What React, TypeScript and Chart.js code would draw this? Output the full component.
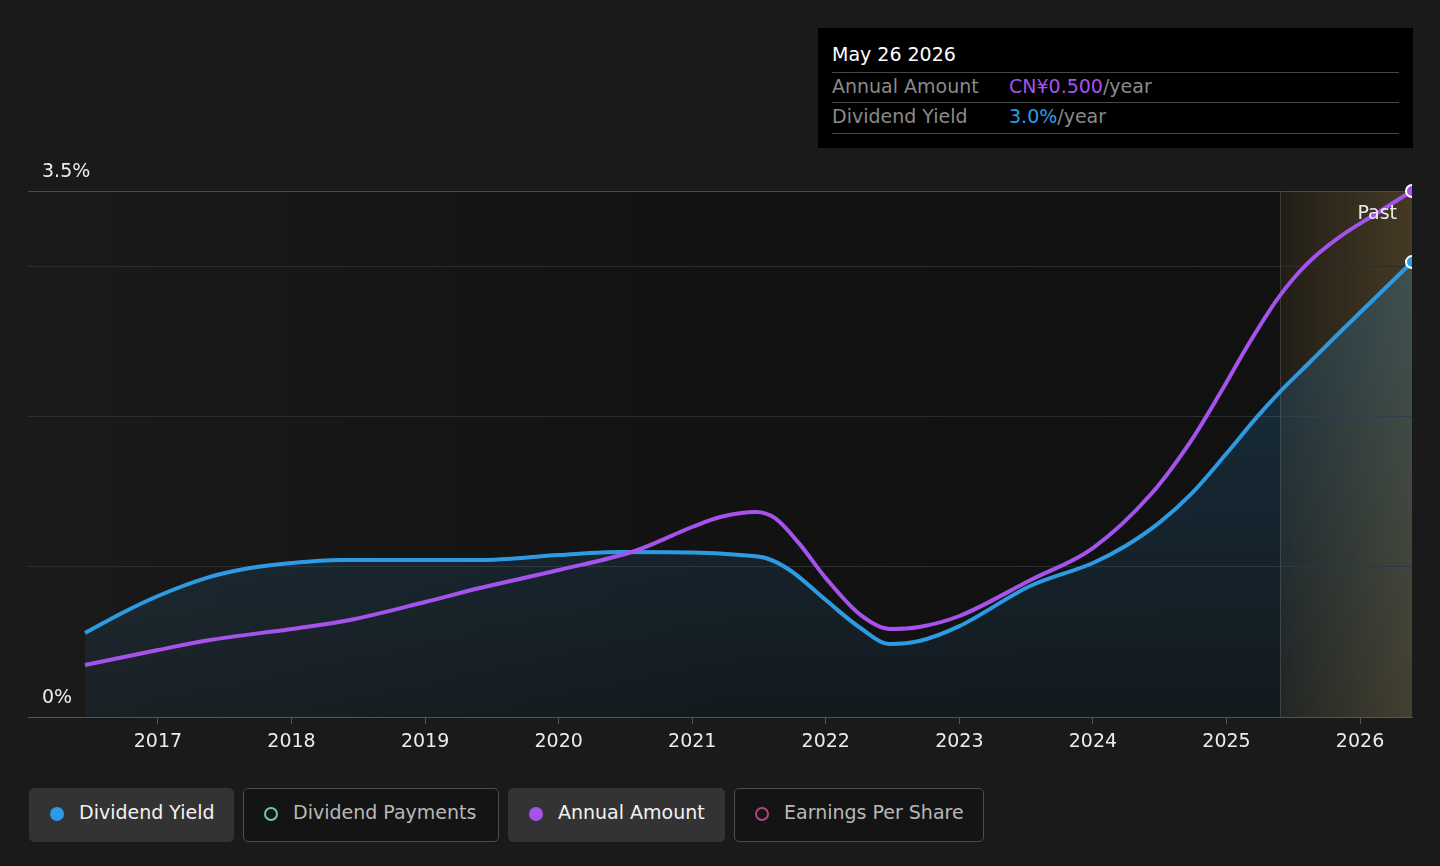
import React, { useEffect, useRef } from "react";
import { Chart, registerables } from "chart.js";

Chart.register(...registerables);

// ---- data ----
const YIELD_X = [2016.454, 2016.75, 2017.0, 2017.389, 2017.689, 2018.0, 2018.362, 2019.41, 2020.0, 2020.46, 2021.0, 2021.36, 2021.55, 2021.73, 2022.0, 2022.26, 2022.48, 2022.7, 2023.0, 2023.53, 2024.0, 2024.247, 2024.495, 2024.742, 2024.997, 2025.229, 2025.393, 2025.603, 2025.828, 2026.097, 2026.389];
const YIELD_Y = [0.559, 0.7, 0.805, 0.932, 0.991, 1.025, 1.045, 1.045, 1.078, 1.098, 1.095, 1.078, 1.058, 0.978, 0.778, 0.592, 0.486, 0.506, 0.605, 0.872, 1.025, 1.14, 1.292, 1.49, 1.75, 1.997, 2.157, 2.342, 2.542, 2.775, 3.027];

const AMOUNT_X = [2016.454, 2017.0, 2017.389, 2018.0, 2018.437, 2019.0, 2019.41, 2020.0, 2020.57, 2021.0, 2021.21, 2021.48, 2021.62, 2021.8, 2022.0, 2022.26, 2022.48, 2022.7, 2023.0, 2023.53, 2024.0, 2024.434, 2024.727, 2024.951, 2025.176, 2025.393, 2025.603, 2025.85, 2026.102, 2026.389];
const AMOUNT_Y = [0.0494, 0.0637, 0.0732, 0.0837, 0.0922, 0.1093, 0.1226, 0.1397, 0.1578, 0.1806, 0.1901, 0.1949, 0.189, 0.165, 0.132, 0.097, 0.0837, 0.0856, 0.096, 0.13, 0.1606, 0.2117, 0.2611, 0.3075, 0.3567, 0.3994, 0.4307, 0.4566, 0.477, 0.5];

const YEAR_TICKS = [2017, 2018, 2019, 2020, 2021, 2022, 2023, 2024, 2025, 2026];
const Y_GRID_TICKS = [0, 1, 2, 3, 3.5];
const Y_LABEL_VALUES = [0, 3.5];
const X_MIN = 2016.027;
const X_MAX = 2026.389;
const PAST_START = 2025.4;
const Y_MAX = 3.5;
const AMOUNT_MAX = 0.5;

const LEGEND_ITEMS = [
  { label: "Dividend Yield", color: "#2d9be3", active: true },
  { label: "Dividend Payments", color: "#6cc9b4", active: false },
  { label: "Annual Amount", color: "#a553ec", active: true },
  { label: "Earnings Per Share", color: "#b3457d", active: false },
];
const LEGEND_WIDTHS = [205, 256, 217, 250];

const FONT = "DejaVu Sans";
const BLUE = "#2d9be3";
const PURPLE = "#a553ec";

const decorPlugin = {
  id: "decor",
  beforeDraw(chart: any) {
    const { ctx, chartArea: a, scales } = chart;
    ctx.save();
    const g = ctx.createLinearGradient(a.left, 0, a.right, 0);
    g.addColorStop(0, "#1a1a1a");
    g.addColorStop(0.5, "#121212");
    g.addColorStop(1, "#111111");
    ctx.fillStyle = g;
    ctx.fillRect(a.left, a.top, a.right - a.left, a.bottom - a.top);
    const px = scales.x.getPixelForValue(PAST_START);
    const pg = ctx.createLinearGradient(px, 0, a.right, 0);
    pg.addColorStop(0, "rgba(120,98,55,0.16)");
    pg.addColorStop(1, "rgba(120,98,55,0.5)");
    ctx.fillStyle = pg;
    ctx.fillRect(px, a.top, a.right - px, a.bottom - a.top);
    ctx.restore();
  },
  beforeDatasetsDraw(chart: any) {
    const { ctx, chartArea: a, scales } = chart;
    const px = Math.round(scales.x.getPixelForValue(PAST_START)) + 0.5;
    ctx.save();
    ctx.strokeStyle = "#3c3c3c";
    ctx.lineWidth = 1;
    ctx.beginPath();
    ctx.moveTo(px, a.top);
    ctx.lineTo(px, a.bottom);
    ctx.stroke();
    ctx.restore();
  },
  afterDraw(chart: any) {
    const { ctx, chartArea: a, scales } = chart;
    ctx.save();
    ctx.font = `19px "${FONT}"`;
    ctx.fillStyle = "#ececec";
    ctx.textBaseline = "middle";
    ctx.textAlign = "left";
    Y_LABEL_VALUES.forEach((v) => {
      ctx.fillText(`${v}%`, a.left + 14, scales.y.getPixelForValue(v) - 19);
    });
    ctx.textAlign = "right";
    ctx.fillText("Past", a.right - 15, a.top + 23);
    ctx.restore();
  },
};

function ChartCanvas() {
  const ref = useRef<HTMLCanvasElement | null>(null);
  useEffect(() => {
    if (!ref.current) return;
    const lastY = YIELD_X.length - 1;
    const lastA = AMOUNT_X.length - 1;
    const chart = new Chart(ref.current, {
      type: "line",
      data: {
        datasets: [
          {
            label: "Annual Amount",
            data: AMOUNT_X.map((x, i) => ({ x, y: AMOUNT_Y[i] })),
            yAxisID: "y1",
            borderColor: PURPLE,
            borderWidth: 4,
            fill: false,
            cubicInterpolationMode: "monotone",
            pointRadius: (c: any) => (c.dataIndex === lastA ? 6 : 0),
            pointHoverRadius: 0,
            pointBackgroundColor: PURPLE,
            pointBorderColor: "#ffffff",
            pointBorderWidth: 2,
            clip: { left: 0, top: 10, right: 0, bottom: 0 },
          } as any,
          {
            label: "Dividend Yield",
            data: YIELD_X.map((x, i) => ({ x, y: YIELD_Y[i] })),
            yAxisID: "y",
            borderColor: BLUE,
            borderWidth: 4,
            fill: "origin",
            backgroundColor: (c: any) => {
              const a = c.chart.chartArea;
              if (!a) return "rgba(45,155,227,0.1)";
              const g = c.chart.ctx.createLinearGradient(0, a.top, 0, a.bottom);
              g.addColorStop(0, "rgba(45,155,227,0.26)");
              g.addColorStop(1, "rgba(45,155,227,0.06)");
              return g;
            },
            cubicInterpolationMode: "monotone",
            pointRadius: (c: any) => (c.dataIndex === lastY ? 6 : 0),
            pointHoverRadius: 0,
            pointBackgroundColor: BLUE,
            pointBorderColor: "#ffffff",
            pointBorderWidth: 2,
            clip: { left: 0, top: 10, right: 0, bottom: 0 },
          } as any,
        ],
      },
      options: {
        animation: false,
        responsive: false,
        maintainAspectRatio: false,
        events: [],
        layout: { padding: { left: 28, right: 28, top: 191, bottom: 0 } },
        plugins: {
          legend: { display: false },
          tooltip: { enabled: false },
        },
        scales: {
          x: {
            type: "linear",
            min: X_MIN,
            max: X_MAX,
            afterBuildTicks: (s: any) => {
              s.ticks = YEAR_TICKS.map((v) => ({ value: v }));
            },
            afterFit: (s: any) => {
              s.height = 53;
            },
            grid: {
              drawOnChartArea: false,
              drawTicks: true,
              tickLength: 7,
              color: "#555555",
            },
            border: { display: true, color: "#555555", width: 1 },
            ticks: {
              color: "#ececec",
              font: { family: FONT, size: 19 },
              padding: 7,
              maxRotation: 0,
              autoSkip: false,
              callback: (v: any) => String(v),
            },
          },
          y: {
            type: "linear",
            min: 0,
            max: Y_MAX,
            afterBuildTicks: (s: any) => {
              s.ticks = Y_GRID_TICKS.map((v) => ({ value: v }));
            },
            afterFit: (s: any) => {
              s.width = 0;
            },
            grid: {
              drawTicks: false,
              color: (c: any) =>
                c.tick && (c.tick.value === Y_MAX || c.tick.value === 0) ? "#4a4a4a" : "#2c2c2c",
              lineWidth: 1,
            },
            border: { display: false },
            ticks: { display: false },
          },
          y1: {
            type: "linear",
            min: 0,
            max: AMOUNT_MAX,
            display: false,
          },
        },
      } as any,
      plugins: [decorPlugin],
    });
    return () => chart.destroy();
  }, []);
  return <canvas ref={ref} width={1440} height={770} style={{ display: "block", width: 1440, height: 770 }} />;
}

function Tooltip() {
  const line = (top: number) => (
    <div style={{ position: "absolute", left: 14, top, width: 567, height: 1, background: "#474747" }} />
  );
  const rowStyle = (top: number): React.CSSProperties => ({
    position: "absolute",
    left: 14,
    top,
    height: 28,
    lineHeight: "28px",
    fontSize: 19,
    whiteSpace: "nowrap",
    display: "flex",
  });
  return (
    <div
      style={{
        position: "absolute",
        left: 818,
        top: 28,
        width: 595,
        height: 120,
        background: "#000000",
        fontFamily: FONT,
      }}
    >
      <div style={{ position: "absolute", left: 14, top: 12, lineHeight: "28px", fontSize: 19, color: "#ffffff" }}>
        May 26 2026
      </div>
      {line(44)}
      <div style={rowStyle(44)}>
        <span style={{ width: 177, color: "#8a8a8a" }}>Annual Amount</span>
        <span style={{ color: PURPLE }}>CN¥0.500</span>
        <span style={{ color: "#8a8a8a" }}>/year</span>
      </div>
      {line(74)}
      <div style={rowStyle(74)}>
        <span style={{ width: 177, color: "#8a8a8a" }}>Dividend Yield</span>
        <span style={{ color: BLUE }}>3.0%</span>
        <span style={{ color: "#8a8a8a" }}>/year</span>
      </div>
      {line(105)}
    </div>
  );
}

function Legend() {
  return (
    <div style={{ position: "absolute", left: 29, top: 788, display: "flex", gap: 9, fontFamily: FONT }}>
      {LEGEND_ITEMS.map((it, i) => (
        <div
          key={it.label}
          style={{
            width: LEGEND_WIDTHS[i],
            height: 54,
            boxSizing: "border-box",
            display: "flex",
            alignItems: "center",
            padding: "0 0 6px 20px",
            borderRadius: 5,
            background: it.active ? "#333333" : "#141414",
            border: it.active ? "1px solid #333333" : "1px solid #4d4d4d",
            color: it.active ? "#f2f2f2" : "#b8b8b8",
            fontSize: 19,
            lineHeight: "22px",
            whiteSpace: "nowrap",
          }}
        >
          <span
            style={{
              width: 14,
              height: 14,
              borderRadius: "50%",
              boxSizing: "border-box",
              background: it.active ? it.color : "transparent",
              border: it.active ? "none" : `2px solid ${it.color}`,
              marginRight: 15,
              marginTop: 4,
              flex: "none",
            }}
          />
          <span>{it.label}</span>
        </div>
      ))}
    </div>
  );
}

export default function App() {
  useEffect(() => {
    document.body.style.margin = "0";
    document.body.style.background = "#1a1a1a";
  }, []);
  return (
    <div
      style={{
        position: "absolute",
        left: 0,
        top: 0,
        width: 1440,
        height: 866,
        background: "#1a1a1a",
        overflow: "hidden",
      }}
    >
      <div style={{ position: "absolute", left: 0, top: 0 }}>
        <ChartCanvas />
      </div>
      <Tooltip />
      <Legend />
    </div>
  );
}
